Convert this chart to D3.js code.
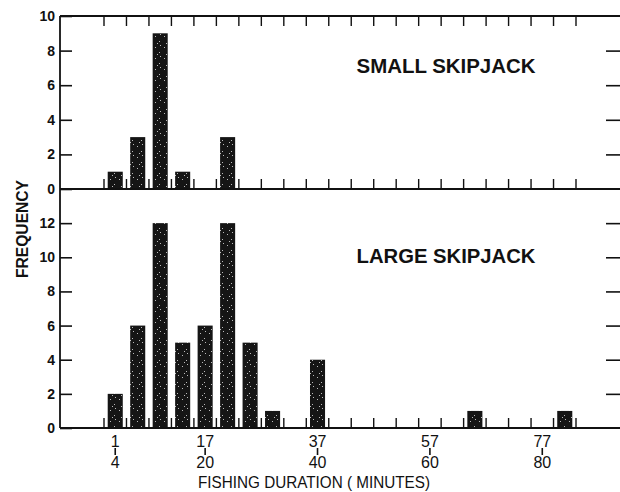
<!DOCTYPE html>
<html>
<head>
<meta charset="utf-8">
<script src="https://cdn.jsdelivr.net/npm/d3@7"></script>
<style>
  body { margin: 0; background: #fff; }
  svg { display: block; font-family: "Liberation Sans", Arial, sans-serif; }
</style>
</head>
<body>
<svg id="chart"></svg>
<script>
// bins of 4 minutes: 1-4, 5-8, ... 81-84
const binStarts = [1, 5, 9, 13, 17, 21, 25, 29, 33, 37, 41, 45, 49, 53, 57, 61, 65, 69, 73, 77, 81];
const smallFreq = [1, 3, 9, 1, 0, 3, 0, 0, 0, 0, 0, 0, 0, 0, 0, 0, 0, 0, 0, 0, 0];
const largeFreq = [2, 6, 12, 5, 6, 12, 5, 1, 0, 4, 0, 0, 0, 0, 0, 0, 1, 0, 0, 0, 1];
const labelledBins = [1, 17, 37, 57, 77];
const smallTicks = [0, 2, 4, 6, 8, 10];
const largeTicks = [0, 2, 4, 6, 8, 10, 12];

const width = 620;
const height = 492;
const left = 60;
const right = 620;
const top1 = 16, bottom1 = 189;
const top2 = 189, bottom2 = 428;

const svg = d3.select("#chart").attr("width", width).attr("height", height);

// speckled fill for the bars
const defs = svg.append("defs");
const pat = defs.append("pattern")
  .attr("id", "speckle")
  .attr("patternUnits", "userSpaceOnUse")
  .attr("width", 9).attr("height", 11);
pat.append("rect").attr("width", 9).attr("height", 11).attr("fill", "#151515");
[[2, 3], [6, 8], [4, 10], [7, 1]].forEach(([cx, cy]) => {
  pat.append("rect").attr("x", cx).attr("y", cy).attr("width", 1).attr("height", 1)
    .attr("fill", "#bbb");
});

const x = d3.scaleBand()
  .domain(binStarts)
  .range([104, 576])
  .paddingInner(0.33)
  .paddingOuter(0.165);

const gap = x.step() - x.bandwidth();
const boundaries = binStarts.map((b) => x(b) - gap / 2);
boundaries.push(x(binStarts[binStarts.length - 1]) + x.bandwidth() + gap / 2);

const y1 = d3.scaleLinear().domain([0, 10]).range([bottom1, top1]);
const y2 = d3.scaleLinear().domain([0, 14]).range([bottom2, top2]);

function panel(values, y, ticks, yBottom, title, titleY) {
  const g = svg.append("g");

  g.selectAll("rect.bar")
    .data(values.map((v, i) => ({ bin: binStarts[i], v })).filter((d) => d.v > 0))
    .join("rect")
    .attr("class", "bar")
    .attr("x", (d) => x(d.bin))
    .attr("y", (d) => y(d.v))
    .attr("width", x.bandwidth())
    .attr("height", (d) => yBottom - y(d.v))
    .attr("fill", "url(#speckle)");

  // left axis, ticks pointing inward
  const la = g.append("g")
    .attr("transform", `translate(${left},0)`)
    .call(d3.axisLeft(y).tickValues(ticks).tickSizeInner(-12).tickSizeOuter(0).tickPadding(5));
  la.select(".domain").remove();
  la.selectAll("line").attr("stroke", "#111").attr("stroke-width", 1.6);
  la.selectAll("text")
    .attr("font-size", 14)
    .attr("font-weight", "bold")
    .attr("fill", "#111");

  // right axis ticks
  const ra = g.append("g")
    .attr("transform", `translate(${right},0)`)
    .call(d3.axisRight(y).tickValues(ticks.filter((t) => t > 0 && t < d3.max(ticks) + (ticks.length > 6 ? 1 : 0)))
      .tickSizeInner(-14).tickSizeOuter(0).tickFormat(""));
  ra.select(".domain").remove();
  ra.selectAll("line").attr("stroke", "#111").attr("stroke-width", 1.6);

  // bin boundary ticks on the baseline
  g.selectAll("line.bt")
    .data(boundaries)
    .join("line")
    .attr("class", "bt")
    .attr("x1", (d) => d).attr("x2", (d) => d)
    .attr("y1", yBottom).attr("y2", yBottom - 10)
    .attr("stroke", "#111").attr("stroke-width", 1.4);

  g.append("text")
    .attr("x", 446)
    .attr("y", titleY)
    .attr("text-anchor", "middle")
    .attr("font-size", 20)
    .attr("font-weight", "bold")
    .attr("textLength", 179)
    .attr("lengthAdjust", "spacingAndGlyphs")
    .attr("fill", "#111")
    .text(title);
}

panel(smallFreq, y1, smallTicks, bottom1, "SMALL SKIPJACK", 73);
panel(largeFreq, y2, largeTicks, bottom2, "LARGE SKIPJACK", 263);

// top frame ticks (pointing down)
svg.selectAll("line.tt")
  .data(boundaries)
  .join("line")
  .attr("class", "tt")
  .attr("x1", (d) => d).attr("x2", (d) => d)
  .attr("y1", top1).attr("y2", top1 + 10)
  .attr("stroke", "#111").attr("stroke-width", 1.4);

// frame
const frame = svg.append("g").attr("stroke", "#111").attr("stroke-width", 1.8);
frame.append("line").attr("x1", left).attr("x2", right).attr("y1", top1).attr("y2", top1);
frame.append("line").attr("x1", left).attr("x2", right).attr("y1", bottom1).attr("y2", bottom1);
frame.append("line").attr("x1", left).attr("x2", right).attr("y1", bottom2).attr("y2", bottom2);
frame.append("line").attr("x1", left).attr("x2", left).attr("y1", top1).attr("y2", bottom2);

// x labels: bin start over bin end
const xl = svg.append("g").attr("fill", "#111").attr("font-size", 16);
xl.selectAll("text.ts")
  .data(labelledBins)
  .join("text")
  .attr("class", "ts")
  .attr("x", (d) => x(d) + x.bandwidth() / 2)
  .attr("y", 447)
  .attr("text-anchor", "middle")
  .text((d) => d);
xl.selectAll("line.sep")
  .data(labelledBins)
  .join("line")
  .attr("class", "sep")
  .attr("x1", (d) => x(d) + x.bandwidth() / 2)
  .attr("x2", (d) => x(d) + x.bandwidth() / 2)
  .attr("y1", 448).attr("y2", 455)
  .attr("stroke", "#111").attr("stroke-width", 1.6);
xl.selectAll("text.te")
  .data(labelledBins)
  .join("text")
  .attr("class", "te")
  .attr("x", (d) => x(d) + x.bandwidth() / 2)
  .attr("y", 468)
  .attr("text-anchor", "middle")
  .text((d) => d + 3);

svg.append("text")
  .attr("x", 314)
  .attr("y", 488)
  .attr("text-anchor", "middle")
  .attr("font-size", 17)
  .attr("textLength", 232)
  .attr("lengthAdjust", "spacingAndGlyphs")
  .attr("fill", "#111")
  .text("FISHING DURATION ( MINUTES)");

svg.append("text")
  .attr("transform", "translate(28,229) rotate(-90)")
  .attr("text-anchor", "middle")
  .attr("font-size", 16)
  .attr("font-weight", "bold")
  .attr("textLength", 98)
  .attr("lengthAdjust", "spacingAndGlyphs")
  .attr("fill", "#111")
  .text("FREQUENCY");
</script>
</body>
</html>
